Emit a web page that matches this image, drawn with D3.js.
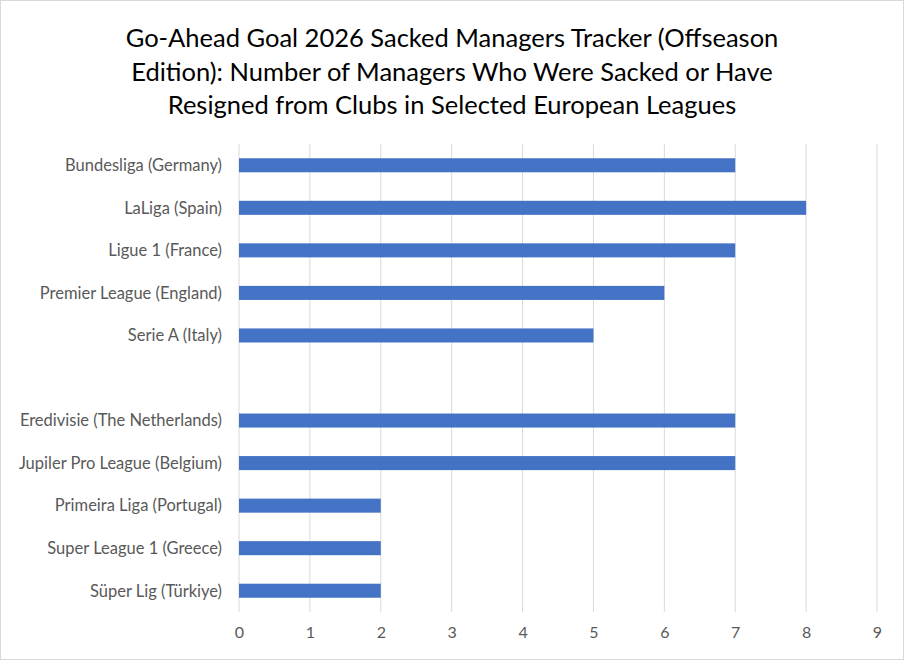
<!DOCTYPE html>
<html>
<head>
<meta charset="utf-8">
<script src="https://cdn.jsdelivr.net/npm/d3@7"></script>
<style>
  body { margin: 0; background: #fff; }
  svg { display: block; font-family: Lato, "Open Sans", sans-serif; }
</style>
</head>
<body>
<div id="chart"></div>
<script>
// leagues, top to bottom; the empty one is the gap row between the two groups
var leagues = ["Bundesliga (Germany)", "LaLiga (Spain)", "Ligue 1 (France)",
    "Premier League (England)", "Serie A (Italy)", "",
    "Eredivisie (The Netherlands)", "Jupiler Pro League (Belgium)",
    "Primeira Liga (Portugal)", "Super League 1 (Greece)", "Süper Lig (Türkiye)"];
var sacked = [7, 8, 7, 6, 5, null, 7, 7, 2, 2, 2];
var xTicks = [0, 1, 2, 3, 4, 5, 6, 7, 8, 9];
var titleLines = ["Go-Ahead Goal 2026 Sacked Managers Tracker (Offseason",
    "Edition): Number of Managers Who Were Sacked or Have",
    "Resigned from Clubs in Selected European Leagues"];

var W = 904, H = 660;
var margin = {top: 144, right: 27, bottom: 48, left: 239};
var width = W - margin.left - margin.right,
    height = H - margin.top - margin.bottom;

var svg = d3.select("#chart")
    .append("svg")
    .attr("width", W)
    .attr("height", H);

// outer border
svg.append("rect")
    .attr("x", 0.5).attr("y", 0.5)
    .attr("width", W - 1).attr("height", H - 1)
    .attr("fill", "#fff")
    .attr("stroke", "#d9d9d9");

// title
svg.append("g").selectAll("text")
    .data(titleLines)
    .enter()
    .append("text")
    .attr("x", W / 2)
    .attr("y", function(d, i) { return 47 + i * 33.5; })
    .attr("text-anchor", "middle")
    .style("font-size", "25.5px")
    .style("fill", "#000")
    .text(function(d) { return d; });

var g = svg.append("g")
    .attr("transform", "translate(" + margin.left + "," + margin.top + ")");

var x = d3.scaleLinear()
    .domain([0, 9])
    .range([0, width]);

var y = d3.scaleBand()
    .domain(d3.range(leagues.length))
    .range([0, height])
    .paddingInner(0.67)
    .paddingOuter(0.335);

// vertical gridlines
g.append("g").selectAll("line")
    .data(xTicks)
    .enter()
    .append("line")
    .attr("x1", function(d) { return x(d); })
    .attr("x2", function(d) { return x(d); })
    .attr("y1", 0)
    .attr("y2", height)
    .attr("stroke", "#d9d9d9")
    .attr("stroke-width", 1);

// x axis labels
var xAxis = g.append("g")
    .attr("transform", "translate(0," + height + ")")
    .call(d3.axisBottom(x).tickValues(xTicks).tickSize(0).tickPadding(15).tickFormat(d3.format("d")));
xAxis.select(".domain").remove();
xAxis.selectAll("text")
    .style("font-size", "16px")
    .style("font-family", "Lato, 'Open Sans', sans-serif")
    .style("fill", "#595959");

// category labels
g.append("g").selectAll("text")
    .data(leagues)
    .enter()
    .append("text")
    .attr("x", -17)
    .attr("y", function(d, i) { return y(i) + y.bandwidth() / 2; })
    .attr("dy", "0.35em")
    .attr("text-anchor", "end")
    .style("font-size", "16.5px")
    .style("fill", "#595959")
    .text(function(d) { return d; });

// bars
g.append("g").selectAll("rect")
    .data(sacked.map(function(v, i) { return {i: i, v: v}; }).filter(function(d) { return d.v != null; }))
    .enter()
    .append("rect")
    .attr("x", x(0))
    .attr("y", function(d) { return y(d.i); })
    .attr("width", function(d) { return x(d.v) - x(0); })
    .attr("height", y.bandwidth())
    .attr("fill", "#4472c4");
</script>
</body>
</html>
